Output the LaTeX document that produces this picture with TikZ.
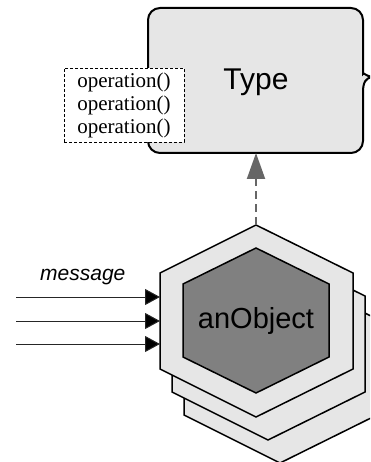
\documentclass[tikz,border=0pt]{standalone}
\usepackage{fontspec}
\setmainfont{Liberation Sans}
\newfontfamily\opsfont{Liberation Serif}
\usetikzlibrary{arrows.meta}
\definecolor{paleface}{HTML}{E6E6E6}
\definecolor{coreface}{HTML}{808080}
\definecolor{linkgray}{HTML}{666666}

% one layer of the object stack, shifted by (#1,#2), filled with #3
\newcommand\objlayer[3]{%
  \draw[outline, fill=#3, shift={(#1,#2)}]
    (256,225) -- (353,273) -- (353,369) -- (256,417) -- (160,369) -- (160,273) -- cycle;}

\begin{document}
\begin{tikzpicture}[x=1pt, y=-1pt,
  outline/.style={draw=black, line width=1.5pt, line join=miter},
  typebox/.style={draw=black, line width=2pt, fill=paleface},
  opsbox/.style={draw=black, line width=0.9pt, dash pattern=on 3pt off 2pt, fill=white,
    inner sep=0pt, minimum width=120pt, minimum height=74pt, align=center,
    font=\opsfont\fontsize{21}{23}\selectfont},
  inherit/.style={draw=linkgray, line width=2pt, dash pattern=on 8pt off 5pt,
    -{Triangle[length=26pt, width=18pt, fill=linkgray]}},
  msg/.style={draw=black!85, line width=1pt, -{Triangle[length=15pt, width=16pt, fill=black]}}]
\useasboundingbox (0,0) rectangle (370,462);
\clip (0,0) rectangle (370,462);

% type box with brace on its right edge
\draw[typebox] (148,80) [rounded corners=12pt] -- (148,8) -- (363,8) -- (363,62)
  [sharp corners] .. controls (363,72) and (366,76) .. (372,77)
  .. controls (366,78) and (363,82) .. (363,92)
  [rounded corners=12pt] -- (363,153) -- (148,153) -- cycle;
\node[font=\fontsize{30}{36}\selectfont, anchor=base, inner sep=0pt] (type) at (256,90) {Type};
\coordinate (typebase) at (256,153);

% operations list
\node[opsbox] (ops) at (124,105) {operation()\\operation()\\operation()};

% stacked object
\objlayer{24}{46}{paleface}
\objlayer{12}{23}{paleface}
\objlayer{0}{0}{paleface}
\draw[outline, fill=coreface]
  (256,248) -- (329,284) -- (329,357) -- (256,393) -- (183,357) -- (183,284) -- cycle;
\node[font=\fontsize{29}{34}\selectfont, anchor=base, inner sep=0pt] (obj) at (256,328) {anObject};
\coordinate (objtop) at (256,225);

% instance-of link
\draw[inherit] (objtop) -- (typebase);

% incoming messages
\coordinate (m1s) at (16,297);  \coordinate (m1e) at (160,297);
\coordinate (m2s) at (16,321);  \coordinate (m2e) at (160,321);
\coordinate (m3s) at (16,344);  \coordinate (m3e) at (160,344);
\draw[msg] (m1s) -- (m1e);
\draw[msg] (m2s) -- (m2e);
\draw[msg] (m3s) -- (m3e);
\node[font=\itshape\fontsize{21}{25}\selectfont, anchor=base west, inner sep=0pt] (msglabel) at (40,280) {message};
\end{tikzpicture}
\end{document}
